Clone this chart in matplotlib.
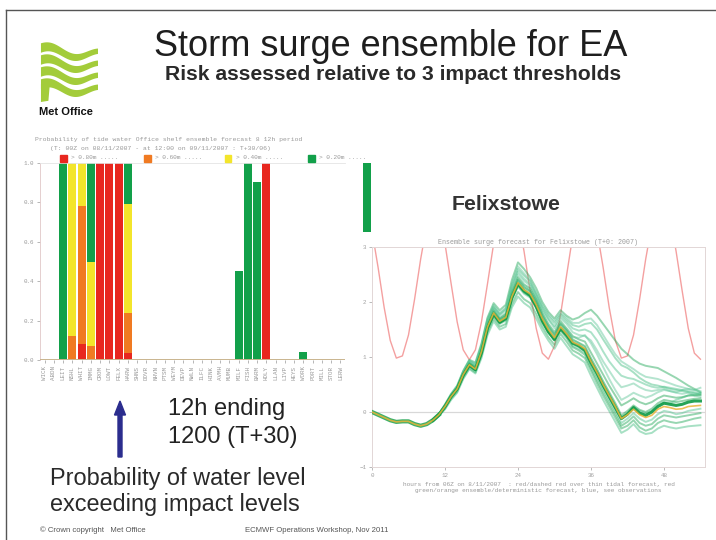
import matplotlib
matplotlib.use("Agg")
import matplotlib.pyplot as plt
import numpy as np
from matplotlib.patches import FancyArrow, Rectangle, Polygon

# ---------------- data: left panel (probability of exceeding thresholds) ----------------
stations = ['WICK', 'ABDN', 'LEIT', 'NSHL', 'WHIT', 'IMMG', 'CROM', 'LOWT', 'FELX', 'HARW',
            'SHNS', 'DOVR', 'NHVN', 'PTSM', 'WEYM', 'DEVP', 'NWLN', 'ILFC', 'HINK', 'AVMH',
            'MUMB', 'MILF', 'FISH', 'BARM', 'HOLY', 'LLAN', 'LIVP', 'HEYS', 'WORK', 'PORT',
            'MILL', 'STOR', 'LERW']
p_green = [0, 0, 1, 1, 1, 1, 1, 1, 1, 1,
           0, 0, 0, 0, 0, 0, 0, 0, 0, 0,
           0, 0.45, 1.0, 0.905, 1.0, 0, 0, 0, 0.04, 0,
           0, 0, 0]
p_yellow = [0, 0, 0, 1, 1, 0.5, 1, 1, 1, 0.79,
            0, 0, 0, 0, 0, 0, 0, 0, 0, 0,
            0, 0, 0, 0, 1.0, 0, 0, 0, 0, 0,
            0, 0, 0]
p_orange = [0, 0, 0, 0.12, 0.78, 0.07, 1, 1, 1, 0.24,
            0, 0, 0, 0, 0, 0, 0, 0, 0, 0,
            0, 0, 0, 0, 1.0, 0, 0, 0, 0, 0,
            0, 0, 0]
p_red = [0, 0, 0, 0, 0.08, 0, 1, 1, 1, 0.035,
         0, 0, 0, 0, 0, 0, 0, 0, 0, 0,
         0, 0, 0, 0, 1.0, 0, 0, 0, 0, 0,
         0, 0, 0]
threshold_labels = ['> 0.80m', '> 0.60m', '> 0.40m', '> 0.20m']  # red, orange, yellow, green
stray_bar = [1.0]

# ---------------- data: right panel (Felixstowe surge ensemble) ----------------
hours = list(range(0, 55))
control = [0.00, -0.05, -0.10, -0.15, -0.18, -0.17, -0.17, -0.22, -0.25, -0.22,
           -0.15, -0.05, 0.10, 0.28, 0.42, 0.68, 0.86, 0.78, 1.10, 1.55,
           1.80, 1.65, 1.72, 2.10, 2.35, 2.22, 2.15, 1.95, 1.70, 1.50,
           1.35, 1.55, 1.42, 1.27, 1.22, 1.15, 0.92, 0.72, 0.50, 0.30,
           0.10, -0.12, -0.05, 0.05, -0.05, -0.10, -0.06, 0.05, 0.10, 0.08,
           0.05, 0.06, 0.10, 0.11, 0.12]
tide = [3.29, 2.63, 1.90, 1.30, 0.98, 1.02, 1.40, 2.05, 2.78, 3.40,
        3.82, 3.64, 3.06, 2.34, 1.64, 1.13, 0.95, 1.13, 1.64, 2.34,
        3.06, 3.64, 3.88, 3.86, 3.55, 2.92, 2.20, 1.52, 1.07, 0.96,
        1.20, 1.77, 2.49, 3.20, 3.72, 3.88, 3.78, 3.29, 2.63, 1.90,
        1.30, 0.98, 1.02, 1.40, 2.05, 2.78, 3.40, 3.82, 3.86, 3.55,
        2.92, 2.20, 1.52, 1.07, 0.96]
hours_m = list(range(10, 55))
m1 = [-0.14, -0.03, 0.14, 0.33, 0.48, 0.75, 0.95, 0.90, 1.25, 1.72,
      1.98, 1.85, 1.95, 2.40, 2.72, 2.60, 2.45, 2.25, 2.00, 1.82,
      1.70, 1.85, 1.75, 1.68, 1.72, 1.80, 1.86, 1.75, 1.60, 1.45,
      1.30, 1.15, 1.05, 0.95, 0.88, 0.84, 0.82, 0.80, 0.74, 0.68,
      0.62, 0.55, 0.48, 0.42, 0.36]
m2 = [-0.16, -0.04, 0.12, 0.30, 0.45, 0.72, 0.92, 0.85, 1.20, 1.68,
      1.92, 1.78, 1.88, 2.30, 2.60, 2.48, 2.38, 2.15, 1.92, 1.75,
      1.62, 1.78, 1.68, 1.58, 1.55, 1.60, 1.62, 1.50, 1.32, 1.15,
      0.98, 0.85, 0.80, 0.72, 0.62, 0.55, 0.50, 0.48, 0.45, 0.42,
      0.40, 0.38, 0.36, 0.34, 0.32]
m3 = [-0.15, -0.05, 0.11, 0.30, 0.44, 0.70, 0.90, 0.82, 1.15, 1.62,
      1.88, 1.72, 1.80, 2.22, 2.50, 2.38, 2.30, 2.08, 1.85, 1.68,
      1.52, 1.70, 1.60, 1.45, 1.40, 1.38, 1.30, 1.12, 0.92, 0.75,
      0.58, 0.45, 0.48, 0.52, 0.45, 0.40, 0.38, 0.40, 0.42, 0.38,
      0.35, 0.33, 0.35, 0.30, 0.28]
m4 = [-0.14, -0.04, 0.12, 0.31, 0.45, 0.71, 0.89, 0.82, 1.14, 1.60,
      1.85, 1.70, 1.78, 2.18, 2.45, 2.32, 2.25, 2.05, 1.80, 1.60,
      1.45, 1.65, 1.52, 1.38, 1.32, 1.28, 1.08, 0.88, 0.68, 0.48,
      0.30, 0.12, 0.18, 0.25, 0.18, 0.14, 0.18, 0.25, 0.30, 0.28,
      0.26, 0.27, 0.30, 0.30, 0.31]
m5 = [-0.16, -0.06, 0.08, 0.26, 0.40, 0.65, 0.83, 0.75, 1.06, 1.50,
      1.75, 1.60, 1.66, 2.04, 2.28, 2.15, 2.08, 1.88, 1.62, 1.44,
      1.30, 1.50, 1.36, 1.20, 1.15, 1.08, 0.85, 0.64, 0.42, 0.22,
      0.02, -0.20, -0.12, -0.02, -0.12, -0.18, -0.14, -0.04, 0.02, 0.00,
      -0.04, -0.02, 0.02, 0.04, 0.06]
m6 = [-0.17, -0.07, 0.06, 0.24, 0.37, 0.62, 0.80, 0.72, 1.02, 1.45,
      1.70, 1.55, 1.60, 1.96, 2.18, 2.05, 1.98, 1.78, 1.55, 1.36,
      1.22, 1.42, 1.28, 1.12, 1.06, 0.98, 0.75, 0.52, 0.30, 0.10,
      -0.10, -0.30, -0.25, -0.15, -0.28, -0.34, -0.30, -0.20, -0.15, -0.18,
      -0.20, -0.18, -0.15, -0.12, -0.10]
m7 = [-0.16, -0.07, 0.05, 0.22, 0.35, 0.60, 0.78, 0.70, 0.98, 1.40,
      1.65, 1.50, 1.55, 1.90, 2.10, 1.98, 1.90, 1.70, 1.48, 1.30,
      1.15, 1.35, 1.20, 1.05, 0.98, 0.90, 0.66, 0.44, 0.22, 0.02,
      -0.18, -0.38, -0.32, -0.22, -0.35, -0.40, -0.38, -0.30, -0.25, -0.28,
      -0.30, -0.28, -0.26, -0.25, -0.24]
m8 = [-0.15, -0.05, 0.10, 0.29, 0.43, 0.69, 0.87, 0.80, 1.12, 1.58,
      1.83, 1.68, 1.76, 2.15, 2.42, 2.30, 2.22, 2.02, 1.78, 1.58,
      1.42, 1.62, 1.50, 1.36, 1.35, 1.40, 1.25, 1.05, 0.82, 0.60,
      0.40, 0.22, 0.28, 0.35, 0.30, 0.26, 0.30, 0.36, 0.40, 0.38,
      0.36, 0.40, 0.42, 0.40, 0.44]
m9 = [-0.15, -0.05, 0.10, 0.28, 0.42, 0.67, 0.85, 0.77, 1.08, 1.53,
      1.78, 1.63, 1.70, 2.08, 2.33, 2.20, 2.12, 1.92, 1.66, 1.46,
      1.32, 1.52, 1.40, 1.25, 1.20, 1.12, 0.90, 0.70, 0.48, 0.28,
      0.08, -0.12, -0.04, 0.08, -0.02, -0.06, 0.00, 0.10, 0.16, 0.14,
      0.12, 0.14, 0.18, 0.20, 0.20]
m10 = [-0.14, -0.04, 0.11, 0.29, 0.43, 0.69, 0.88, 0.80, 1.12, 1.57,
       1.82, 1.68, 1.75, 2.14, 2.40, 2.27, 2.20, 2.00, 1.75, 1.55,
       1.40, 1.60, 1.48, 1.32, 1.26, 1.20, 0.98, 0.78, 0.56, 0.36,
       0.16, -0.06, 0.02, 0.12, 0.04, 0.00, 0.06, 0.16, 0.22, 0.20,
       0.18, 0.20, 0.22, 0.24, 0.25]
m11 = [-0.15, -0.04, 0.12, 0.31, 0.46, 0.73, 0.93, 0.86, 1.20, 1.66,
       1.90, 1.76, 1.85, 2.26, 2.55, 2.42, 2.33, 2.12, 1.88, 1.70,
       1.56, 1.74, 1.64, 1.52, 1.48, 1.50, 1.45, 1.30, 1.10, 0.92,
       0.78, 0.66, 0.62, 0.60, 0.55, 0.50, 0.46, 0.44, 0.46, 0.44,
       0.42, 0.40, 0.38, 0.36, 0.35]
m12 = [-0.16, -0.06, 0.09, 0.27, 0.40, 0.66, 0.84, 0.76, 1.07, 1.52,
       1.77, 1.62, 1.68, 2.06, 2.30, 2.17, 2.10, 1.90, 1.64, 1.45,
       1.30, 1.48, 1.35, 1.18, 1.12, 1.04, 0.80, 0.58, 0.36, 0.16,
       -0.04, -0.25, -0.18, -0.08, -0.20, -0.25, -0.22, -0.12, -0.06, -0.08,
       -0.10, -0.08, -0.06, -0.04, -0.02]
m13 = [-0.15, -0.05, 0.11, 0.29, 0.43, 0.69, 0.87, 0.79, 1.11, 1.56,
       1.81, 1.66, 1.73, 2.12, 2.38, 2.25, 2.18, 1.98, 1.73, 1.53,
       1.38, 1.58, 1.45, 1.30, 1.25, 1.18, 0.95, 0.75, 0.53, 0.33,
       0.13, -0.09, -0.02, 0.10, 0.02, -0.02, 0.02, 0.12, 0.18, 0.16,
       0.22, 0.26, 0.30, 0.32, 0.34]
m14 = [-0.14, -0.04, 0.13, 0.32, 0.47, 0.74, 0.94, 0.88, 1.22, 1.70,
       1.95, 1.80, 1.90, 2.34, 2.65, 2.52, 2.40, 2.18, 1.95, 1.78,
       1.66, 1.80, 1.72, 1.62, 1.62, 1.68, 1.70, 1.58, 1.40, 1.22,
       1.05, 0.92, 0.85, 0.78, 0.70, 0.64, 0.62, 0.60, 0.56, 0.52,
       0.48, 0.45, 0.42, 0.40, 0.38]
members = [m1, m2, m3, m4, m5, m6, m7, m8, m10, m11, m12, m13, m14]
mean_member = m9

# ---------------- figure ----------------
W, H = 716, 540
fig = plt.figure(figsize=(7.16, 5.4), dpi=100)
fig.patch.set_facecolor('white')
SANS = ['Liberation Sans', 'DejaVu Sans']
MONO = ['Liberation Mono', 'DejaVu Sans Mono']


def box(l, t, r, b):
    return [l / W, 1 - b / H, (r - l) / W, (b - t) / H]


def fx(px):
    return px / W


def fy(py):
    return 1 - py / H


# slide frame
fig.add_artist(plt.Line2D([fx(6), 1], [fy(10), fy(10)], color='#555555', lw=1.0))
fig.add_artist(plt.Line2D([fx(6), fx(6)], [fy(10), 0], color='#555555', lw=1.0))

# logo
axg = fig.add_axes(box(36, 42, 98, 102))
axg.set_xlim(0, 1)
axg.set_ylim(0, 1)
axg.axis('off')
lime = '#a3cc3a'
t = np.linspace(0, 1, 80)
for k in range(4):
    yc = 0.86 - 0.2 * k + 0.07 * np.sin(2 * np.pi * 1.1 * t + 0.6) - 0.08 * t
    th = 0.15 * (1.05 - 0.45 * t)
    xs = np.concatenate([0.08 + 0.92 * t, (0.08 + 0.92 * t)[::-1]])
    ys = np.concatenate([yc + th / 2, (yc - th / 2)[::-1]])
    axg.add_patch(Polygon(np.column_stack([xs, ys]), closed=True, color=lime, lw=0))
axg.add_patch(Polygon([[0.08, 0.30], [0.22, 0.26], [0.2, 0.02], [0.08, 0.0]], closed=True,
                      color=lime, lw=0))
fig.text(fx(39), fy(112), 'Met Office', family=SANS, fontsize=8, fontweight='bold',
         color='#111111', va='center', ha='left')

# titles
fig.text(fx(154), fy(46), 'Storm surge ensemble for EA', family=SANS, fontsize=26,
         color='#1e1e1e', va='center', ha='left')
fig.text(fx(165), fy(75), 'Risk assessed relative to 3 impact thresholds', family=SANS,
         fontsize=15.2, fontweight='bold', color='#2a2a2a', va='center', ha='left')

# ---------------- left panel ----------------
G, Y, O, R = '#12a04a', '#f3e52b', '#f07a22', '#e8271f'
axL = fig.add_axes(box(40, 163, 345, 360))
xpos = np.arange(len(stations))
for vals, col in [(p_green, G), (p_yellow, Y), (p_orange, O), (p_red, R)]:
    axL.bar(xpos, vals, width=0.86, color=col, linewidth=0, zorder=2)
axL.set_xlim(-0.5, len(stations) - 0.5)
axL.set_ylim(0, 1)
axL.axhline(0, color='#c9b48e', lw=1.4, zorder=3)
axL.set_yticks([0, 0.2, 0.4, 0.6, 0.8, 1.0])
axL.set_yticklabels(['0.0', '0.2', '0.4', '0.6', '0.8', '1.0'])
axL.set_xticks(xpos)
axL.set_xticklabels(stations, rotation=90)
axL.tick_params(axis='both', labelsize=4.2, colors='#9a9a9a', length=2, width=0.5, pad=2)
for lab in axL.get_xticklabels() + axL.get_yticklabels():
    lab.set_family(MONO)
axL.spines['right'].set_visible(False)
axL.spines['bottom'].set_visible(False)
axL.spines['top'].set_color('#e4e4e4')
axL.spines['left'].set_color('#e0c8c8')
for s in axL.spines.values():
    s.set_linewidth(0.6)

fig.text(fx(35), fy(140), 'Probability of tide water Office shelf ensemble forecast 8 12h period',
         family=MONO, fontsize=4.6, color='#9a9a9a', va='center', ha='left')
fig.text(fx(50), fy(148), '(T: 00Z on 08/11/2007 - at 12:00 on 09/11/2007 : T+30/06)',
         family=MONO, fontsize=4.6, color='#9a9a9a', va='center', ha='left')
for xm, col, lab in zip([63, 147, 228, 311], [R, O, Y, G], threshold_labels):
    fig.add_artist(Rectangle((fx(xm - 3.5), fy(161.5)), 7 / W, 7 / H, color=col,
                             transform=fig.transFigure))
    fig.text(fx(xm + 8), fy(158), lab + ' .....', family=MONO, fontsize=4.4, color='#9a9a9a',
             va='center', ha='left')

# stray bar fragment
axs = fig.add_axes(box(363, 163, 371, 232))
axs.bar([0], stray_bar, width=1.0, color=G, linewidth=0)
axs.set_xlim(-0.5, 0.5)
axs.set_ylim(0, 1)
axs.axis('off')

# annotations
fig.add_artist(FancyArrow(fx(120), fy(457), 0, (457 - 401) / H, width=4 / W,
                          head_width=11 / W, head_length=14 / H, length_includes_head=True,
                          color='#2b2d8e', transform=fig.transFigure))
fig.text(fx(168), fy(409), '12h ending', family=SANS, fontsize=17, color='#222222',
         va='center', ha='left')
fig.text(fx(168), fy(437), '1200 (T+30)', family=SANS, fontsize=17, color='#222222',
         va='center', ha='left')
fig.text(fx(50), fy(478), 'Probability of water level', family=SANS, fontsize=16.9,
         color='#2a2a2a', va='center', ha='left')
fig.text(fx(50), fy(505), 'exceeding impact levels', family=SANS, fontsize=16.9,
         color='#2a2a2a', va='center', ha='left')
fig.text(fx(40), fy(530), '\u00a9 Crown copyright   Met Office', family=SANS, fontsize=5.6,
         color='#555555', va='center', ha='left')
fig.text(fx(245), fy(530), 'ECMWF Operations Workshop, Nov 2011', family=SANS, fontsize=5.6,
         color='#555555', va='center', ha='left')

# ---------------- right panel ----------------
fig.text(fx(452), fy(205), 'Felixstowe', family=SANS, fontsize=15.3, fontweight='bold',
         color='#333333', va='center', ha='left')
axR = fig.add_axes(box(372, 247, 705, 467))
axR.plot(hours, tide, color='#f4a0a0', lw=1.0, zorder=2)
axR.axhline(0, color='#d8d8d8', lw=0.9, zorder=1)
axR.plot(hours[:12], control[:12], color='#2aa85a', lw=3.0, alpha=0.9, zorder=3)
mcols = ['#1aa552', '#3dbb7c', '#5cc596', '#14a04b', '#48c088']
for i, m in enumerate(members):
    axR.plot(hours_m, m, color=mcols[i % len(mcols)], lw=1.4, alpha=0.45, zorder=3)
axR.plot(hours_m, mean_member, color='#0e9a45', lw=2.2, alpha=0.9, zorder=4)
axR.plot(hours, control, color='#e9b43a', lw=1.2, alpha=0.85, zorder=5)
axR.set_xlim(0, 54.75)
axR.set_ylim(-1, 3)
axR.set_xticks([0, 12, 24, 36, 48])
axR.set_yticks([-1, 0, 1, 2, 3])
axR.tick_params(axis='both', labelsize=4.2, colors='#a0a0a0', length=2, width=0.5, pad=2)
for lab in axR.get_xticklabels() + axR.get_yticklabels():
    lab.set_family(MONO)
for s in axR.spines.values():
    s.set_color('#e2d6d6')
    s.set_linewidth(0.7)
axR.set_title('Ensemble surge forecast for Felixstowe (T+0: 2007)', family=MONO,
              fontsize=4.8, color='#9a9a9a', pad=2)
axR.set_xlabel('hours from 06Z on 8/11/2007  : red/dashed red over thin tidal forecast, red\n'
               'green/orange ensemble/deterministic forecast, blue, see observations',
               family=MONO, fontsize=4.4, color='#9a9a9a', labelpad=3)

fig.savefig('out.png', dpi=100, facecolor='white')
